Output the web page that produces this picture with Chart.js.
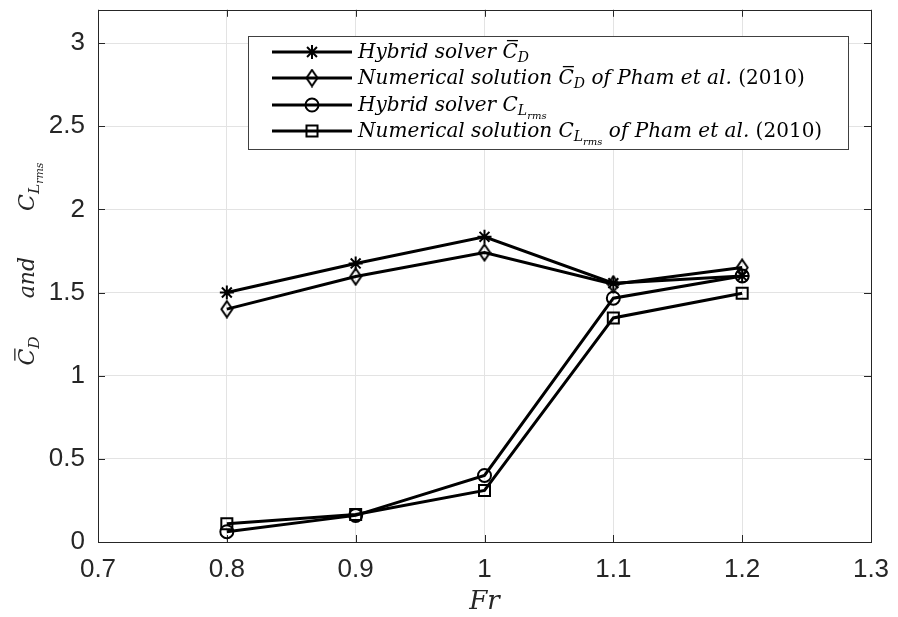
<!DOCTYPE html>
<html lang="en">
<head>
  <meta charset="UTF-8" />
  <title>Mean drag and rms lift vs Froude number</title>
  <script src="https://cdn.jsdelivr.net/npm/chart.js"></script>
  <style>
    html, body { margin: 0; padding: 0; background: #fff; }
    #wrap { width: 898px; height: 617px; }
  </style>
</head>
<body>
  <div id="wrap"><canvas id="chart" width="898" height="617"></canvas></div>
  <script>
    // values
    const fr = [0.8, 0.9, 1.0, 1.1, 1.2];
    const hybridCd = [1.50, 1.675, 1.835, 1.556, 1.60];
    const phamCd = [1.40, 1.596, 1.741, 1.55, 1.65];
    const hybridCl = [0.062, 0.16, 0.40, 1.466, 1.60];
    const phamCl = [0.11, 0.165, 0.31, 1.347, 1.496];
    const xTicks = [0.7, 0.8, 0.9, 1, 1.1, 1.2, 1.3];
    const yTicks = [0, 0.5, 1, 1.5, 2, 2.5, 3];

    const INK = '#262626';
    const SERIF = '"DejaVu Serif", "Liberation Serif", serif';

    // tall matlab-style diamond
    function makeDiamond() {
      const c = document.createElement('canvas');
      c.width = 14; c.height = 19;
      const g = c.getContext('2d');
      g.strokeStyle = '#000';
      g.lineWidth = 2;
      g.beginPath();
      g.moveTo(7, 1.5); g.lineTo(12.5, 9.5); g.lineTo(7, 17.5); g.lineTo(1.5, 9.5);
      g.closePath();
      g.stroke();
      return c;
    }
    const diamond = makeDiamond();

    const pts = ys => fr.map((x, i) => ({ x: x, y: ys[i] }));

    function series(ys, style, radius) {
      return {
        data: pts(ys),
        borderColor: '#000',
        borderWidth: 3,
        tension: 0,
        pointStyle: style,
        pointRadius: radius,
        pointBorderWidth: 2,
        pointBorderColor: '#000',
        pointBackgroundColor: 'rgba(0,0,0,0)'
      };
    }

    const legendRows = [
      { style: 'star', radius: 7, parts: [{ t: 'Hybrid solver ' }, { t: 'C', bar: true }, { t: 'D', lvl: 1 }] },
      { style: diamond, radius: 7, parts: [{ t: 'Numerical solution ' }, { t: 'C', bar: true }, { t: 'D', lvl: 1 }, { t: ' of Pham et al. ' }, { t: '(2010)', rm: true }] },
      { style: 'circle', radius: 6.5, parts: [{ t: 'Hybrid solver ' }, { t: 'C' }, { t: 'L', lvl: 1 }, { t: 'rms', lvl: 2 }] },
      { style: 'rect', radius: 7.8, parts: [{ t: 'Numerical solution ' }, { t: 'C' }, { t: 'L', lvl: 1 }, { t: 'rms', lvl: 2 }, { t: ' of Pham et al. ' }, { t: '(2010)', rm: true }] }
    ];

    // draws italic math-ish text with subscripts; returns width
    function drawRich(ctx, parts, x, y, size, dry) {
      let cx = x;
      parts.forEach(p => {
        if (p.gap) { cx += p.gap; return; }
        const lvl = p.lvl || 0;
        const s = lvl === 0 ? size : lvl === 1 ? size * 0.7 : size * 0.5;
        const dy = lvl === 0 ? 0 : lvl === 1 ? size * 0.22 : size * 0.40;
        ctx.font = (p.rm ? '' : 'italic ') + s + 'px ' + SERIF;
        const w = ctx.measureText(p.t).width;
        if (!dry) {
          ctx.fillText(p.t, cx, y + dy);
          if (p.bar) ctx.fillRect(cx + s * 0.22, y - s * 0.9, w * 0.72, 1.3);
        }
        cx += w;
      });
      return cx - x;
    }

    const frame = {
      id: 'frame',
      beforeDatasetsDraw(chart) {
        const { ctx, chartArea: a, scales } = chart;
        ctx.save();
        ctx.strokeStyle = INK;
        ctx.lineWidth = 1;
        ctx.beginPath();
        xTicks.forEach(v => {
          const px = Math.round(scales.x.getPixelForValue(v)) + 0.5;
          ctx.moveTo(px, a.bottom); ctx.lineTo(px, a.bottom - 7);
          ctx.moveTo(px, a.top); ctx.lineTo(px, a.top + 7);
        });
        yTicks.forEach(v => {
          const py = Math.round(scales.y.getPixelForValue(v)) + 0.5;
          ctx.moveTo(a.left, py); ctx.lineTo(a.left + 7, py);
          ctx.moveTo(a.right, py); ctx.lineTo(a.right - 7, py);
        });
        ctx.stroke();
        ctx.strokeRect(Math.round(a.left) + 0.5, Math.round(a.top) + 0.5,
          Math.round(a.right - a.left), Math.round(a.bottom - a.top));
        ctx.restore();
      },
      afterDraw(chart) {
        const { ctx, chartArea: a } = chart;
        ctx.save();
        ctx.fillStyle = INK;
        ctx.textBaseline = 'alphabetic';

        // x title
        ctx.font = 'italic 26px ' + SERIF;
        ctx.textAlign = 'center';
        ctx.fillText('Fr', (a.left + a.right) / 2, 609);

        // y title, rotated
        ctx.textAlign = 'left';
        const yParts = [
          { t: 'C', bar: true }, { t: 'D', lvl: 1 }, { gap: 38 },
          { t: 'and' }, { gap: 46 },
          { t: 'C' }, { t: 'L', lvl: 1 }, { t: 'rms', lvl: 2 }
        ];
        ctx.translate(34, 264);
        ctx.rotate(-Math.PI / 2);
        const yw = drawRich(ctx, yParts, 0, 0, 22, true);
        drawRich(ctx, yParts, -yw / 2, 0, 22);
        ctx.restore();

        // legend
        ctx.save();
        const box = { l: 248, t: 36, r: 848, b: 149 };
        ctx.fillStyle = '#fff';
        ctx.fillRect(box.l, box.t, box.r - box.l, box.b - box.t);
        ctx.strokeStyle = '#404040';
        ctx.lineWidth = 1;
        ctx.strokeRect(box.l + 0.5, box.t + 0.5, box.r - box.l, box.b - box.t);

        const ref = drawRich(ctx, legendRows[1].parts, 0, 0, 20, true);
        const fs = 20 * 447 / ref;
        const rowY = [52, 78, 105, 131];
        legendRows.forEach((row, i) => {
          const y = rowY[i];
          ctx.strokeStyle = '#000';
          ctx.lineWidth = 3;
          ctx.beginPath();
          ctx.moveTo(272, y); ctx.lineTo(352, y);
          ctx.stroke();
          ctx.lineWidth = 2;
          ctx.fillStyle = 'rgba(0,0,0,0)';
          Chart.helpers.drawPoint(ctx, { pointStyle: row.style, radius: row.radius, rotation: 0, borderWidth: 2 }, 312, y);
          ctx.fillStyle = '#000';
          drawRich(ctx, row.parts, 358, y + 6, fs);
        });
        ctx.restore();
      }
    };

    new Chart(document.getElementById('chart'), {
      type: 'line',
      data: {
        datasets: [
          series(hybridCd, 'star', 7),
          series(phamCd, diamond, 7),
          series(hybridCl, 'circle', 6.5),
          series(phamCl, 'rect', 7.8)
        ]
      },
      options: {
        responsive: false,
        animation: false,
        layout: { padding: { top: 8, right: 27, left: 0, bottom: 0 } },
        plugins: { legend: { display: false }, tooltip: { enabled: false } },
        scales: {
          x: {
            type: 'linear',
            min: 0.7,
            max: 1.3,
            afterBuildTicks: s => { s.ticks = xTicks.map(v => ({ value: v })); },
            afterFit: s => { s.height = 75; s.paddingLeft = 0; s.paddingRight = 0; },
            grid: { color: '#e3e3e3', drawTicks: false },
            border: { display: false },
            ticks: {
              color: INK,
              padding: 12,
              maxRotation: 0,
              font: { family: '"Liberation Sans", Arial, sans-serif', size: 26 },
              callback: v => String(Math.round(v * 10) / 10)
            }
          },
          y: {
            type: 'linear',
            min: 0,
            max: 3.2,
            afterBuildTicks: s => { s.ticks = yTicks.map(v => ({ value: v })); },
            afterFit: s => { s.width = 98; s.paddingTop = 0; s.paddingBottom = 0; },
            grid: { color: '#e3e3e3', drawTicks: false },
            border: { display: false },
            ticks: {
              color: INK,
              padding: 13,
              font: { family: '"Liberation Sans", Arial, sans-serif', size: 26 },
              callback: v => String(Math.round(v * 10) / 10)
            }
          }
        }
      },
      plugins: [frame]
    });
  </script>
</body>
</html>
